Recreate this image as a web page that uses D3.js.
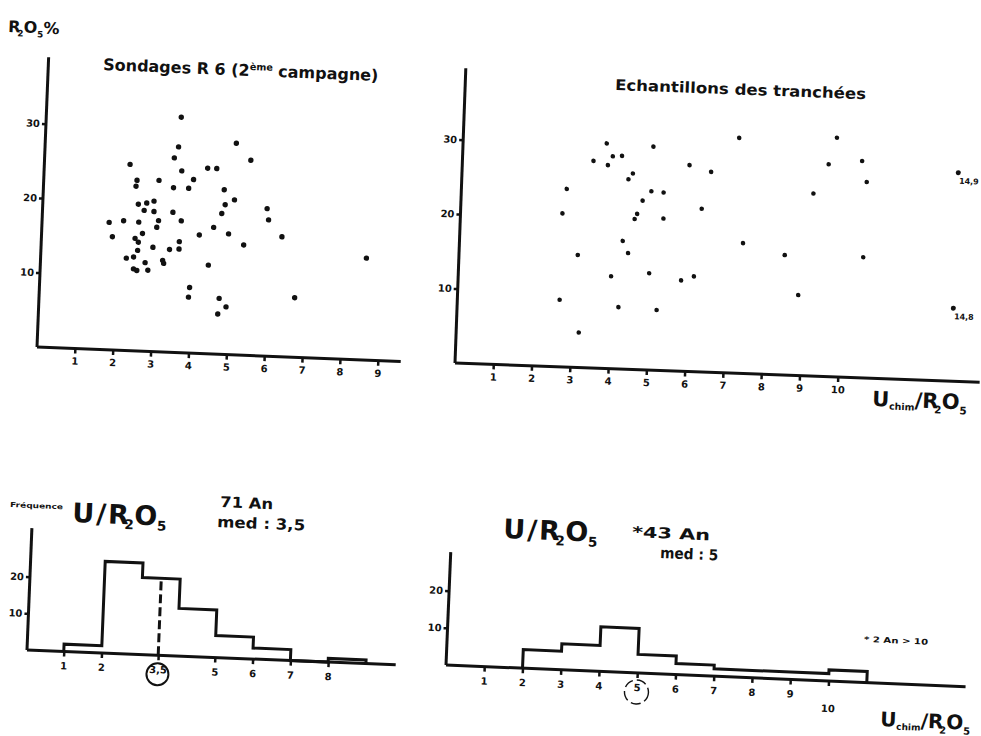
<!DOCTYPE html>
<head>
  <meta charset="utf-8">
  <script src="https://d3js.org/d3.v7.min.js"></script>
  <style>
    body { margin:0; background:#fff; }
    svg { display:block; }
    text { font-family: "DejaVu Sans", sans-serif; font-weight: bold; fill: #111; }
    .axis line { stroke: #111; stroke-width: 2.5px; }
    .axis path { display: none; }
    .axis text { font-size: 10px; }
  </style>
</head>

<body>
<script>
  // Sondages R6 (2eme campagne) : U/R2O5 en abscisse, R2O5 % en ordonnee
  var sondU = [3.56, 3.52, 3.42, 3.63, 5.04, 5.44, 2.26, 4.31, 4.55, 2.44, 2.46, 3.04, 3.43,
               3.83, 3.95, 4.77, 5.05, 4.81, 4.73, 5.92, 5.97, 6.34, 5.34, 4.93, 4.53, 4.16,
               4.43, 3.67, 3.44, 3.64, 3.64, 3.39, 3.22, 3.25, 2.95, 3.07, 3.03, 2.74, 2.93,
               2.94, 2.68, 2.52, 2.55, 2.15, 1.77, 1.87, 2.47, 2.56, 2.66, 2.55, 2.26, 2.45,
               2.46, 2.55, 2.76, 2.84, 3.96, 3.94, 4.75, 4.94, 4.73, 6.74, 8.59];
  var sondR = [31.6, 27.6, 26.1, 24.4, 28.4, 26.2, 25.0, 24.9, 24.9, 22.1, 22.9, 23.0, 22.1,
               22.1, 23.3, 22.1, 20.8, 20.1, 18.9, 19.8, 18.3, 16.1, 14.8, 16.2, 17.0, 15.9,
               11.9, 17.7, 18.8, 14.9, 13.9, 13.8, 12.3, 11.9, 14.0, 17.6, 16.7, 19.9, 20.2,
               18.8, 18.9, 19.7, 17.3, 17.4, 17.1, 15.2, 15.1, 14.6, 15.8, 13.5, 12.4, 12.6,
               11.0, 10.8, 11.9, 10.9, 8.8, 7.5, 7.5, 6.4, 5.4, 8.0, 13.7];

  // Echantillons des tranchees
  var tranU = [3.75, 3.42, 3.80, 3.92, 4.16, 4.97, 7.20, 9.75, 4.46, 4.35, 2.75, 2.66, 3.10,
               2.67, 3.20, 4.21, 3.99, 4.26, 4.41, 4.74, 4.96, 5.28, 4.61, 4.55, 5.30, 4.98,
               5.21, 5.82, 6.15, 6.29, 5.93, 6.50, 7.40, 8.50, 8.89, 9.19, 9.56, 10.43, 10.57,
               10.55];
  var tranR = [30.2, 27.8, 27.3, 28.5, 28.6, 30.0, 31.6, 32.1, 26.3, 25.5, 23.9, 20.6, 15.1,
               9.0, 4.7, 8.3, 12.4, 17.2, 15.6, 22.7, 24.0, 23.9, 20.9, 20.2, 20.4, 13.0,
               8.1, 12.2, 12.8, 21.9, 27.7, 26.9, 17.5, 16.1, 10.8, 24.5, 28.5, 29.1, 26.3,
               16.2];
  // hors echelle (U/R2O5 > 10)
  var horsU = [14.9, 14.8];
  var horsR = [28.0, 9.8];
  var horsLabel = ["14,9", "14,8"];

  // histogrammes
  var histEdgesA = [1, 2, 3, 4, 5, 6, 7, 8, 9];
  var histCountA = [2, 25, 21, 13, 6, 3, 0, 1];
  var medA = 3.5;
  var histEdgesB = [2, 3, 4, 5, 6, 7, 8, 9, 10, 11];
  var histCountB = [5, 7, 12, 5, 3, 2, 2, 2, 3];
  var medB = 5;

  var ticksA = [1, 2, 3.5, 5, 6, 7, 8];
  var ticksALabel = ["1", "2", "3,5", "5", "6", "7", "8"];
  var ticksScatter1 = [1, 2, 3, 4, 5, 6, 7, 8, 9];
  var ticksScatter2 = [1, 2, 3, 4, 5, 6, 7, 8, 9, 10];
  var ticksPct = [10, 20, 30];
  var ticksFreq = [10, 20];

  var width = 981, height = 736;

  var svg = d3.select("body").append("svg")
    .attr("width", width)
    .attr("height", height);

  // the scan is slightly rotated, so every panel gets its own tilt
  function panel(ox, oy, angle, xLen, yLen) {
    var g = svg.append("g")
      .attr("transform", "translate(" + ox + "," + oy + ") rotate(" + angle + ")");
    g.append("line").attr("x1", 0).attr("y1", 0).attr("x2", xLen).attr("y2", 0)
      .attr("stroke", "#111").attr("stroke-width", 3);
    g.append("line").attr("x1", 0).attr("y1", 0).attr("x2", 0).attr("y2", -yLen)
      .attr("stroke", "#111").attr("stroke-width", 3);
    return g;
  }

  function xAxis(g, x, vals, labels) {
    var ax = d3.axisBottom(x).tickValues(vals).tickSize(5).tickPadding(4).tickSizeOuter(0);
    if (labels) ax.tickFormat(function(d, i) { return labels[i]; });
    return g.append("g").attr("class", "axis").call(ax);
  }
  function yAxis(g, y, vals) {
    return g.append("g").attr("class", "axis")
      .call(d3.axisLeft(y).tickValues(vals).tickSize(4).tickPadding(2).tickSizeOuter(0));
  }

  // ---- panel 1 : sondages
  var g1 = panel(37, 347, 2.3, 364, 290);
  var x1 = d3.scaleLinear().domain([0, 10]).range([0, 379]);
  var y1 = d3.scaleLinear().domain([0, 40]).range([0, -298]);
  xAxis(g1, x1, ticksScatter1);
  yAxis(g1, y1, ticksPct);
  g1.selectAll("circle.pt")
    .data(d3.range(sondU.length))
    .enter().append("circle")
    .attr("class", "pt")
    .attr("r", 2.7)
    .attr("cx", function(i) { return x1(sondU[i]); })
    .attr("cy", function(i) { return y1(sondR[i]); })
    .attr("fill", "#111");

  // ---- panel 2 : tranchees
  var g2 = panel(455, 363, 2.1, 525, 295);
  var x2 = d3.scaleLinear().domain([0, 12.95]).range([0, 496]).clamp(true);
  var y2 = d3.scaleLinear().domain([0, 40]).range([0, -298]);
  xAxis(g2, x2, ticksScatter2);
  yAxis(g2, y2, ticksPct);
  g2.selectAll("circle.pt")
    .data(d3.range(tranU.length))
    .enter().append("circle")
    .attr("class", "pt")
    .attr("r", 2.3)
    .attr("cx", function(i) { return x2(tranU[i]); })
    .attr("cy", function(i) { return y2(tranR[i]); })
    .attr("fill", "#111");
  var hors = g2.selectAll("g.hors")
    .data(d3.range(horsU.length))
    .enter().append("g")
    .attr("class", "hors")
    .attr("transform", function(i) { return "translate(" + x2(horsU[i]) + "," + y2(horsR[i]) + ")"; });
  hors.append("circle").attr("r", 2.5).attr("fill", "#111");
  hors.append("text")
    .attr("x", 1).attr("y", 11)
    .style("font-size", "8px")
    .text(function(i) { return horsLabel[i]; });

  // ---- panel 3 : histogramme sondages
  function steps(edges, counts) {
    var pts = [[edges[0], 0]];
    counts.forEach(function(c, i) {
      pts.push([edges[i], c]);
      pts.push([edges[i + 1], c]);
    });
    pts.push([edges[edges.length - 1], 0]);
    return pts;
  }

  var g3 = panel(27, 650, 2.3, 369, 122);
  var x3 = d3.scaleLinear().domain([0, 10]).range([-1, 377]);
  var y3 = d3.scaleLinear().domain([0, 33]).range([0, -121]);
  var ax3 = xAxis(g3, x3, ticksA, ticksALabel);
  ax3.selectAll(".tick text").attr("dy", "0.9em");
  yAxis(g3, y3, ticksFreq);
  g3.append("path")
    .datum(steps(histEdgesA, histCountA))
    .attr("fill", "none").attr("stroke", "#111").attr("stroke-width", 3)
    .attr("d", d3.line().x(function(d) { return x3(d[0]); }).y(function(d) { return y3(d[1]); }));
  g3.append("line")
    .attr("x1", x3(medA)).attr("x2", x3(medA))
    .attr("y1", 0).attr("y2", y3(histCountA[2]))
    .attr("stroke", "#111").attr("stroke-width", 3).attr("stroke-dasharray", "9,4");
  g3.append("circle")
    .attr("cx", x3(medA)).attr("cy", 19).attr("r", 11)
    .attr("fill", "none").attr("stroke", "#111").attr("stroke-width", 2);

  // ---- panel 4 : histogramme tranchees
  var g4 = panel(446, 665, 2.4, 520, 113);
  var x4 = d3.scaleLinear().domain([0, 14]).range([0, 536]);
  var y4 = d3.scaleLinear().domain([0, 30]).range([0, -111.6]);
  var ax4 = xAxis(g4, x4, ticksScatter2);
  ax4.selectAll(".tick text").attr("dy", function(d) { return d === 10 ? "2.2em" : "0.9em"; });
  yAxis(g4, y4, ticksFreq);
  g4.append("path")
    .datum(steps(histEdgesB, histCountB))
    .attr("fill", "none").attr("stroke", "#111").attr("stroke-width", 3)
    .attr("d", d3.line().x(function(d) { return x4(d[0]); }).y(function(d) { return y4(d[1]); }));
  g4.append("circle")
    .attr("cx", x4(medB)).attr("cy", 19).attr("r", 12)
    .attr("fill", "none").attr("stroke", "#111").attr("stroke-width", 1.4)
    .attr("stroke-dasharray", "10,4");

  // ---- texts
  function label(x, y, size, angle) {
    return svg.append("text")
      .attr("x", x).attr("y", y)
      .attr("transform", "rotate(" + angle + "," + x + "," + y + ")")
      .style("font-size", size + "px");
  }
  function ratio(t, sub) {
    t.append("tspan").text("U");
    if (sub) t.append("tspan").attr("dy", 3).style("font-size", "45%").text(sub);
    t.append("tspan").attr("dy", sub ? -3 : 0).attr("dx", sub ? 0 : 2).text("/");
    t.append("tspan").attr("dx", sub ? 0 : 2).text("R");
    t.append("tspan").attr("dy", 5).attr("dx", -4).style("font-size", "50%").text("2");
    t.append("tspan").attr("dy", -5).text("O");
    t.append("tspan").attr("dy", 5).style("font-size", "50%").text("5");
  }

  var t0 = label(8, 32, 16, 2.3);
  t0.append("tspan").text("R");
  t0.append("tspan").attr("dy", 4).attr("dx", -3).style("font-size", "55%").text("2");
  t0.append("tspan").attr("dy", -4).text("O");
  t0.append("tspan").attr("dy", 4).style("font-size", "55%").text("5");
  t0.append("tspan").attr("dy", -4).text("%");

  var t1 = label(103, 70, 16, 2.3);
  t1.append("tspan").text("Sondages R 6  (2");
  t1.append("tspan").attr("dy", -6).style("font-size", "60%").text("ème");
  t1.append("tspan").attr("dy", 6).text(" campagne)");

  label(615, 90, 15, 2.1).attr("textLength", 251).attr("lengthAdjust", "spacingAndGlyphs")
    .text("Echantillons des tranchées");

  ratio(label(872, 406, 21, 2.1), "chim");

  label(10, 507, 7, 2.3).attr("textLength", 53).attr("lengthAdjust", "spacingAndGlyphs")
    .text("Fréquence");
  ratio(label(72, 522, 27, 2.3));
  label(220, 507, 15, 2.3).attr("textLength", 53).attr("lengthAdjust", "spacingAndGlyphs")
    .text("71 An");
  label(217, 527, 15, 2.3).attr("textLength", 88).attr("lengthAdjust", "spacingAndGlyphs")
    .text("med : 3,5");

  ratio(label(503, 538, 27, 2.4));
  label(632, 537, 15, 2.4).attr("textLength", 78).attr("lengthAdjust", "spacingAndGlyphs")
    .text("*43 An");
  label(660, 558, 15, 2.4).attr("textLength", 58).attr("lengthAdjust", "spacingAndGlyphs")
    .text("med : 5");
  label(864, 642, 8, 2.4).attr("textLength", 64).attr("lengthAdjust", "spacingAndGlyphs")
    .text("* 2 An > 10");
  ratio(label(880, 726, 20, 2.4), "chim");
</script>
</body>
